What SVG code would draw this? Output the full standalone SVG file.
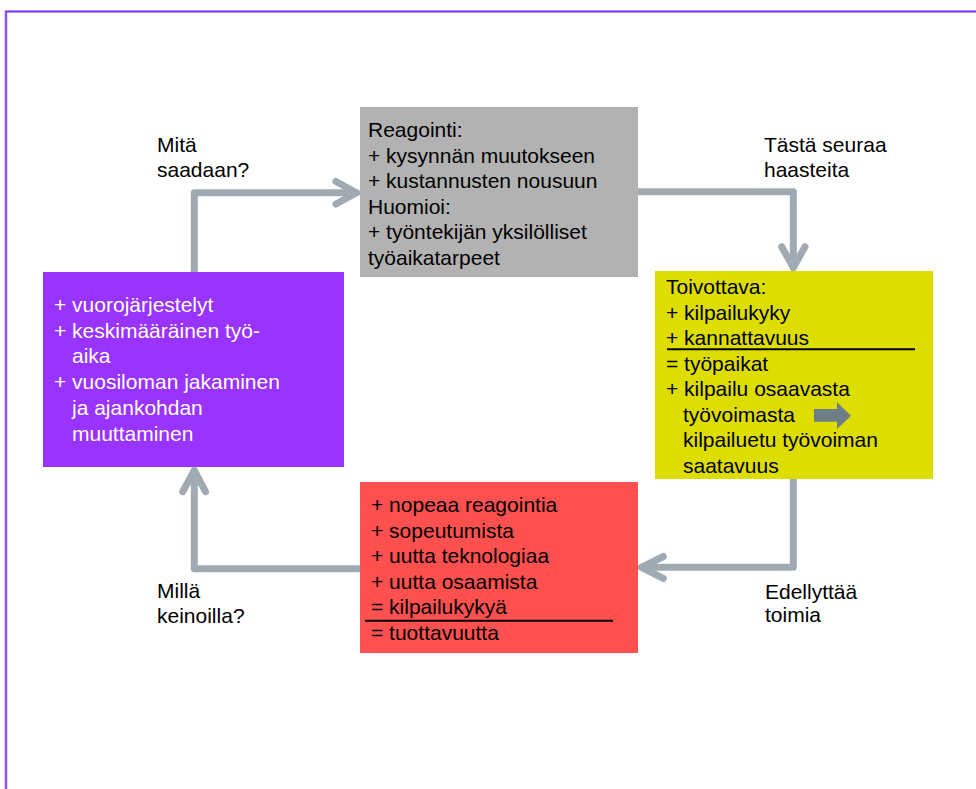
<svg xmlns="http://www.w3.org/2000/svg" width="976" height="789" viewBox="0 0 976 789">
<style>
text{font-family:"Liberation Sans",Arial,sans-serif;font-size:21px;fill:#000}
.w{fill:#fff}
.c{fill:none;stroke:#a0aab2;stroke-width:7;stroke-linecap:round;stroke-linejoin:round}
.u{stroke:#000;stroke-width:2}
</style>
<rect width="976" height="789" fill="#fff"/>
<path d="M6,789 V11.5 H976" fill="none" stroke="#c9b3ff" stroke-width="3"/>
<path d="M6,789 V11.5 H976" fill="none" stroke="#7436f0" stroke-width="1.5"/>
<g id="connectors">
<path class="c" d="M194.3,272 V192.7 H356.5"/>
<path class="c" d="M336,181.5 L356.5,192.7 L336,204"/>
<path class="c" d="M638,191.7 H793.3 V267.5"/>
<path class="c" d="M781.7,246.7 L793.3,267.5 L805,246.7"/>
<path class="c" d="M793.3,479 V567.3 H641.5"/>
<path class="c" d="M663.3,556.5 L641.5,567.3 L663.3,578.3"/>
<path class="c" d="M360,568.7 H194.3 V470.5"/>
<path class="c" d="M182.7,491.7 L194.3,470.5 L205.5,491.7"/>
</g>
<g id="node-reagointi">
<rect x="360" y="107" width="278" height="170" fill="#b2b2b2"/>
<text x="368" y="137">Reagointi:</text>
<text x="368" y="162.6">+ kysynnän muutokseen</text>
<text x="368" y="188.2">+ kustannusten nousuun</text>
<text x="368" y="213.8">Huomioi:</text>
<text x="368" y="239.4">+ työntekijän yksilölliset</text>
<text x="368" y="265">työaikatarpeet</text>
</g>
<g id="node-toivottava">
<rect x="655" y="271" width="278" height="208" fill="#dddd00"/>
<text x="666" y="294">Toivottava:</text>
<text x="666" y="319.5">+ kilpailukyky</text>
<text x="666" y="345">+ kannattavuus</text>
<line class="u" x1="667" y1="349.3" x2="915" y2="349.3"/>
<text x="666" y="370.5">= työpaikat</text>
<text x="666" y="396">+ kilpailu osaavasta</text>
<text x="683" y="421.5">työvoimasta</text>
<text x="683" y="447">kilpailuetu työvoiman</text>
<text x="683" y="472.5">saatavuus</text>
<path d="M814,409 H837 V402.3 L851,415.7 L837,429 V421.7 H814 Z" fill="#6e7e87"/>
</g>
<g id="node-keinot">
<rect x="43" y="272" width="301" height="195" fill="#9933ff"/>
<text class="w" x="54" y="312">+ vuorojärjestelyt</text>
<text class="w" x="54" y="337.7">+ keskimääräinen työ-</text>
<text class="w" x="72" y="363.4">aika</text>
<text class="w" x="54" y="389.1">+ vuosiloman jakaminen</text>
<text class="w" x="72" y="414.8">ja ajankohdan</text>
<text class="w" x="72" y="440.5">muuttaminen</text>
</g>
<g id="node-toimet">
<rect x="360" y="482" width="278" height="171" fill="#ff5050"/>
<text x="371" y="512">+ nopeaa reagointia</text>
<text x="371" y="537.6">+ sopeutumista</text>
<text x="371" y="563.2">+ uutta teknologiaa</text>
<text x="371" y="588.8">+ uutta osaamista</text>
<text x="371" y="614.4">= kilpailukykyä</text>
<line class="u" x1="365" y1="620.7" x2="613" y2="620.7"/>
<text x="371" y="640">= tuottavuutta</text>
</g>
<g id="label-mita">
<text x="157" y="151.7">Mitä</text>
<text x="157" y="177.3">saadaan?</text>
</g>
<g id="label-tasta">
<text x="764" y="151.7">Tästä seuraa</text>
<text x="764" y="176.7">haasteita</text>
</g>
<g id="label-milla">
<text x="157" y="598.3">Millä</text>
<text x="157" y="622.7">keinoilla?</text>
</g>
<g id="label-edellyttaa">
<text x="765" y="599.3">Edellyttää</text>
<text x="765" y="621.7">toimia</text>
</g>
</svg>
